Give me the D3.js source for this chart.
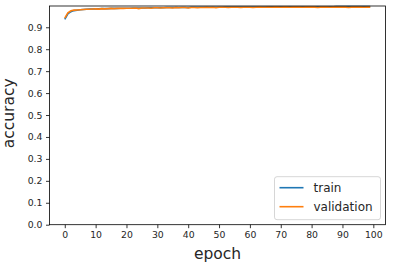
<!DOCTYPE html>
<html>
<head>
<meta charset="utf-8">
<script src="https://cdn.jsdelivr.net/npm/d3@7"></script>
<style>
  body { margin: 0; background: #fff; }
  text { font-family: "DejaVu Sans", sans-serif; fill: #262626; }
</style>
</head>
<body>
<div id="chart"></div>
<script>
// accuracy per epoch
var trainAcc = [
  0.936, 0.961, 0.971, 0.976, 0.978, 0.980, 0.981, 0.982, 0.983, 0.983,
  0.984, 0.984, 0.985, 0.985, 0.985, 0.986, 0.986, 0.986, 0.987, 0.987,
  0.987, 0.987, 0.988, 0.988, 0.988, 0.988, 0.988, 0.989, 0.989, 0.989,
  0.989, 0.989, 0.989, 0.990, 0.990, 0.990, 0.990, 0.990, 0.990, 0.990,
  0.990, 0.991, 0.991, 0.991, 0.991, 0.991, 0.991, 0.991, 0.991, 0.991,
  0.991, 0.991, 0.992, 0.992, 0.992, 0.992, 0.992, 0.992, 0.992, 0.992,
  0.992, 0.992, 0.992, 0.992, 0.992, 0.992, 0.993, 0.993, 0.993, 0.993,
  0.993, 0.993, 0.993, 0.993, 0.993, 0.993, 0.993, 0.993, 0.993, 0.993,
  0.993, 0.993, 0.993, 0.993, 0.993, 0.993, 0.993, 0.993, 0.994, 0.994,
  0.994, 0.994, 0.994, 0.994, 0.994, 0.994, 0.994, 0.994, 0.994, 0.994
];
var valAcc = [
  0.942, 0.966, 0.975, 0.978, 0.979, 0.980, 0.981, 0.982, 0.982, 0.983,
  0.984, 0.983, 0.985, 0.984, 0.985, 0.986, 0.985, 0.986, 0.987, 0.986,
  0.987, 0.987, 0.987, 0.988, 0.985, 0.988, 0.988, 0.988, 0.987, 0.989,
  0.989, 0.988, 0.989, 0.989, 0.989, 0.988, 0.990, 0.989, 0.990, 0.990,
  0.988, 0.990, 0.990, 0.989, 0.990, 0.990, 0.991, 0.990, 0.991, 0.989,
  0.991, 0.991, 0.991, 0.990, 0.991, 0.991, 0.991, 0.990, 0.991, 0.991,
  0.991, 0.990, 0.991, 0.992, 0.991, 0.991, 0.992, 0.991, 0.992, 0.992,
  0.991, 0.992, 0.992, 0.991, 0.992, 0.992, 0.992, 0.991, 0.992, 0.992,
  0.992, 0.992, 0.990, 0.992, 0.992, 0.992, 0.991, 0.992, 0.992, 0.992,
  0.992, 0.992, 0.990, 0.992, 0.992, 0.992, 0.992, 0.991, 0.992, 0.992
];
var xTicks = [0, 10, 20, 30, 40, 50, 60, 70, 80, 90, 100];
var yTicks = [0.0, 0.1, 0.2, 0.3, 0.4, 0.5, 0.6, 0.7, 0.8, 0.9];
var seriesNames = ["train", "validation"];

var W = 395, H = 267;
var margin = {top: 6, right: 9.5, bottom: 42.3, left: 49.5},
    width = W - margin.left - margin.right,
    height = H - margin.top - margin.bottom;

var svg = d3.select("#chart")
  .append("svg")
    .attr("width", W)
    .attr("height", H)
  .append("g")
    .attr("transform", "translate(" + margin.left + "," + margin.top + ")");

var x = d3.scaleLinear()
  .domain([-4.95, 103.95])
  .range([0, width]);

var y = d3.scaleLinear()
  .domain([0, 0.997])
  .range([height, 0]);

var colors = ["#1f77b4", "#ff7f0e"];
var series = [trainAcc, valAcc];

var line = d3.line()
  .x(function(d, i) { return x(i); })
  .y(function(d) { return y(d); });

series.forEach(function(s, k) {
  svg.append("path")
    .datum(s)
    .attr("fill", "none")
    .attr("stroke", colors[k])
    .attr("stroke-width", 1.6)
    .attr("d", line);
});

// axes
var xAxis = svg.append("g")
  .attr("transform", "translate(0," + height + ")")
  .call(d3.axisBottom(x).tickValues(xTicks).tickSize(3.5).tickPadding(3.5).tickFormat(d3.format("d")));
var yAxis = svg.append("g")
  .call(d3.axisLeft(y).tickValues(yTicks).tickSize(3.5).tickPadding(3.5).tickFormat(d3.format(".1f")));

[xAxis, yAxis].forEach(function(a) {
  a.select(".domain").remove();
  a.selectAll("line").attr("stroke", "#000").attr("stroke-width", 0.8);
  a.selectAll("text").attr("font-size", 9.3).attr("font-family", "DejaVu Sans").attr("fill", "#262626");
});

// frame
svg.append("rect")
  .attr("width", width)
  .attr("height", height)
  .attr("fill", "none")
  .attr("stroke", "#000")
  .attr("stroke-width", 0.8);

svg.append("text")
  .attr("x", width / 2)
  .attr("y", height + 34)
  .attr("text-anchor", "middle")
  .attr("font-size", 15.5)
  .text("epoch");

svg.append("text")
  .attr("transform", "translate(" + (-36) + "," + (height / 2 - 2) + ") rotate(-90)")
  .attr("text-anchor", "middle")
  .attr("font-size", 15.5)
  .text("accuracy");

// legend
var legend = svg.append("g")
  .attr("transform", "translate(" + (width - 111) + "," + (height - 48) + ")");
legend.append("rect")
  .attr("width", 106)
  .attr("height", 43)
  .attr("rx", 2.5)
  .attr("fill", "#fff")
  .attr("fill-opacity", 0.8)
  .attr("stroke", "#ccc")
  .attr("stroke-width", 0.8);
seriesNames.forEach(function(name, k) {
  var g = legend.append("g").attr("transform", "translate(0," + (11 + k * 19) + ")");
  g.append("line")
    .attr("x1", 5).attr("x2", 29)
    .attr("stroke", colors[k])
    .attr("stroke-width", 1.6);
  g.append("text")
    .attr("x", 39)
    .attr("dy", "0.35em")
    .attr("font-size", 12)
    .text(name);
});
</script>
</body>
</html>
